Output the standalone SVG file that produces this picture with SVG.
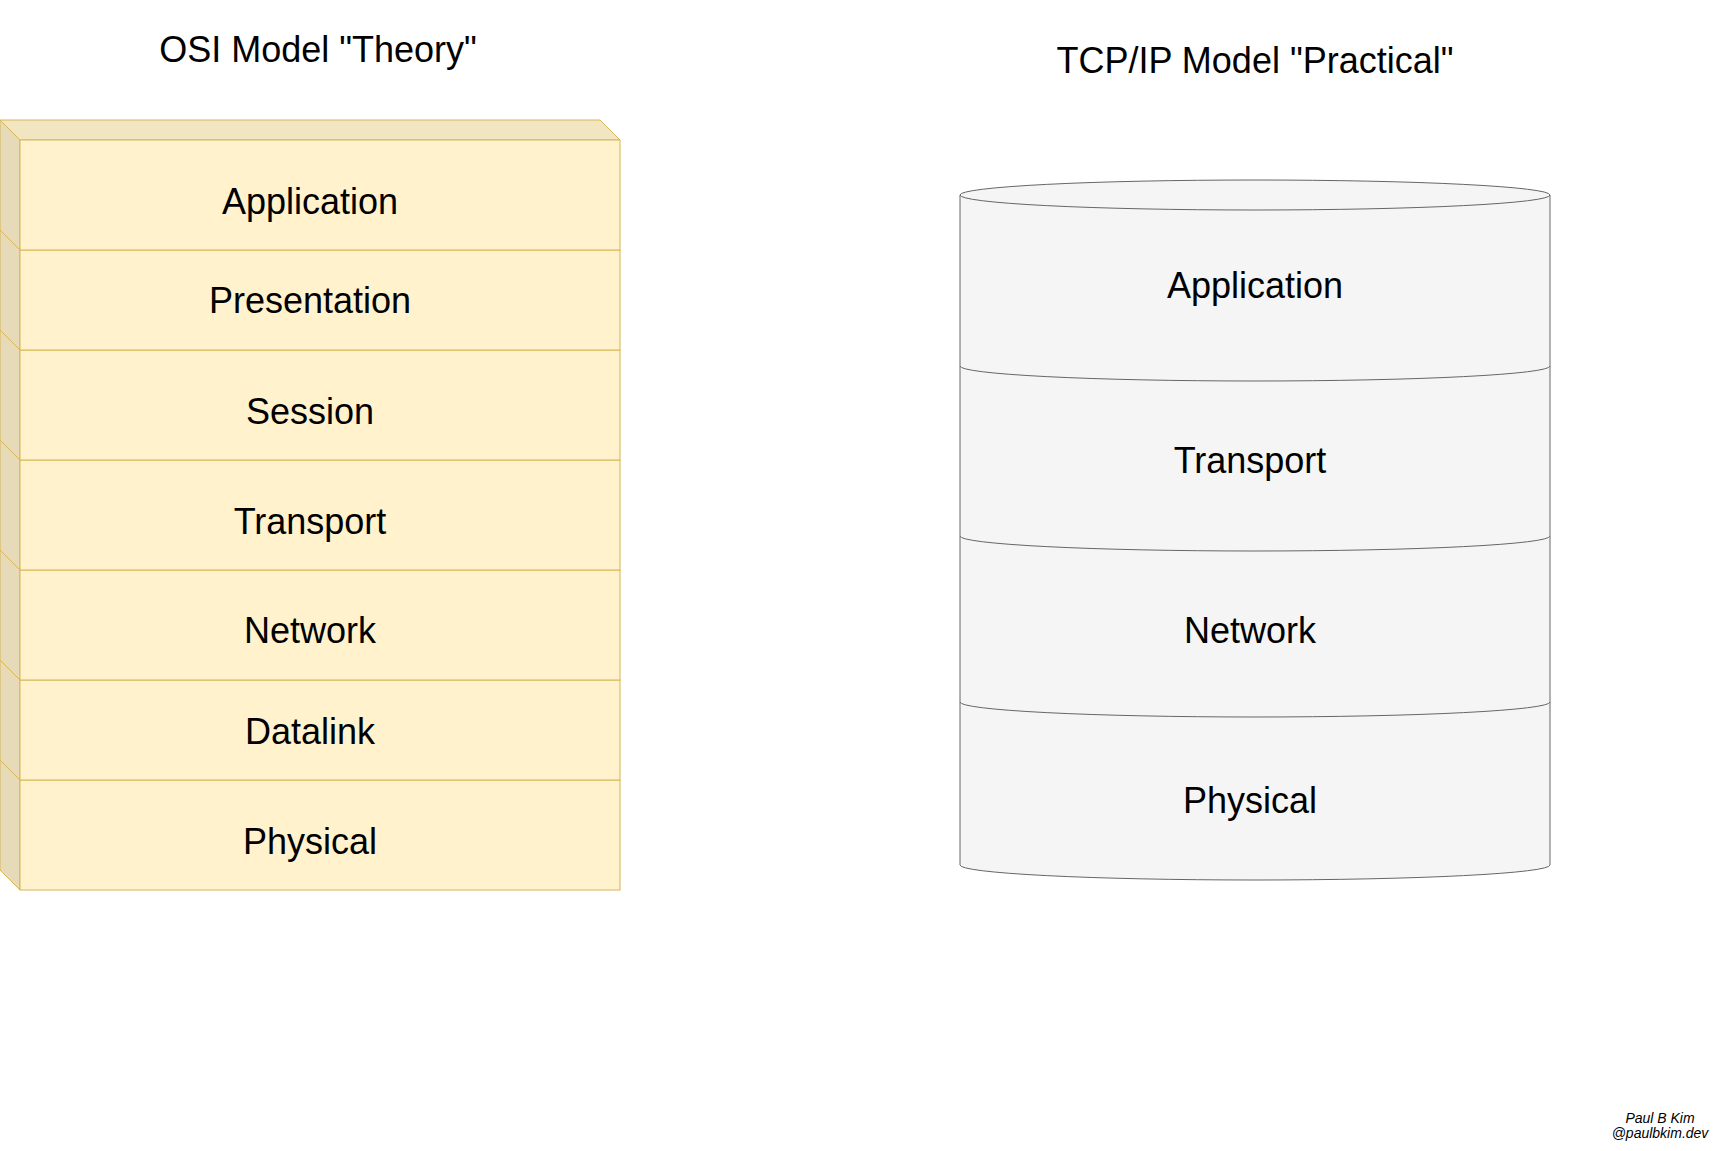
<svg xmlns="http://www.w3.org/2000/svg" width="1731" height="1151" viewBox="0 0 1731 1151">
<style>
text{font-family:"Liberation Sans",Arial,Helvetica,sans-serif;fill:#000;text-anchor:middle}
.t{font-size:36px}
.l{font-size:36px}
.s{font-size:14px;font-style:italic}
.front{fill:#fff2cc;stroke:#d6b656;stroke-width:1}
.top{fill:#f2e6c2;stroke:#d6b656;stroke-width:1}
.side{fill:#e6dab8;stroke:#d6b656;stroke-width:1}
.cyl{fill:#f5f5f5;stroke:#666666;stroke-width:1}
.arc{fill:none;stroke:#666666;stroke-width:1}
</style>
<rect width="1731" height="1151" fill="#ffffff"/>
<g id="title-osi"><text class="t" x="318" y="62">OSI Model "Theory"</text></g>
<g id="title-tcp"><text class="t" x="1255" y="73">TCP/IP Model "Practical"</text></g>

<g id="osi-physical">
<polygon class="top" points="0,760 600,760 620,780 20,780"/>
<polygon class="side" points="0,760 20,780 20,890 0,870"/>
<rect class="front" x="20" y="780" width="600" height="110"/>
<text class="l" x="310" y="854">Physical</text>
</g>
<g id="osi-datalink">
<polygon class="top" points="0,660 600,660 620,680 20,680"/>
<polygon class="side" points="0,660 20,680 20,780 0,760"/>
<rect class="front" x="20" y="680" width="600" height="100"/>
<text class="l" x="310" y="744">Datalink</text>
</g>
<g id="osi-network">
<polygon class="top" points="0,550 600,550 620,570 20,570"/>
<polygon class="side" points="0,550 20,570 20,680 0,660"/>
<rect class="front" x="20" y="570" width="600" height="110"/>
<text class="l" x="310" y="643">Network</text>
</g>
<g id="osi-transport">
<polygon class="top" points="0,440 600,440 620,460 20,460"/>
<polygon class="side" points="0,440 20,460 20,570 0,550"/>
<rect class="front" x="20" y="460" width="600" height="110"/>
<text class="l" x="310" y="534">Transport</text>
</g>
<g id="osi-session">
<polygon class="top" points="0,330 600,330 620,350 20,350"/>
<polygon class="side" points="0,330 20,350 20,460 0,440"/>
<rect class="front" x="20" y="350" width="600" height="110"/>
<text class="l" x="310" y="424">Session</text>
</g>
<g id="osi-presentation">
<polygon class="top" points="0,230 600,230 620,250 20,250"/>
<polygon class="side" points="0,230 20,250 20,350 0,330"/>
<rect class="front" x="20" y="250" width="600" height="100"/>
<text class="l" x="310" y="313">Presentation</text>
</g>
<g id="osi-application">
<polygon class="top" points="0,120 600,120 620,140 20,140"/>
<polygon class="side" points="0,120 20,140 20,250 0,230"/>
<rect class="front" x="20" y="140" width="600" height="110"/>
<text class="l" x="310" y="214">Application</text>
</g>

<g id="tcp-physical">
<path class="cyl" d="M960,702 L960,865 A295,15 0 0 0 1550,865 L1550,702 A295,15 0 0 0 960,702 Z"/>
<text class="l" x="1250" y="813">Physical</text>
</g>
<g id="tcp-network">
<path class="cyl" d="M960,536 L960,702 A295,15 0 0 0 1550,702 L1550,536 A295,15 0 0 0 960,536 Z"/>
<text class="l" x="1250" y="643">Network</text>
</g>
<g id="tcp-transport">
<path class="cyl" d="M960,366 L960,536 A295,15 0 0 0 1550,536 L1550,366 A295,15 0 0 0 960,366 Z"/>
<text class="l" x="1250" y="473">Transport</text>
</g>
<g id="tcp-application">
<path class="cyl" d="M960,195 L960,366 A295,15 0 0 0 1550,366 L1550,195 A295,15 0 0 0 960,195 Z"/>
<path class="arc" d="M960,195 A295,15 0 0 0 1550,195"/>
<text class="l" x="1255" y="298">Application</text>
</g>

<g id="connectors"></g>

<g id="signature">
<text class="s" x="1660" y="1123">Paul B Kim</text>
<text class="s" x="1660" y="1138">@paulbkim.dev</text>
</g>
</svg>
